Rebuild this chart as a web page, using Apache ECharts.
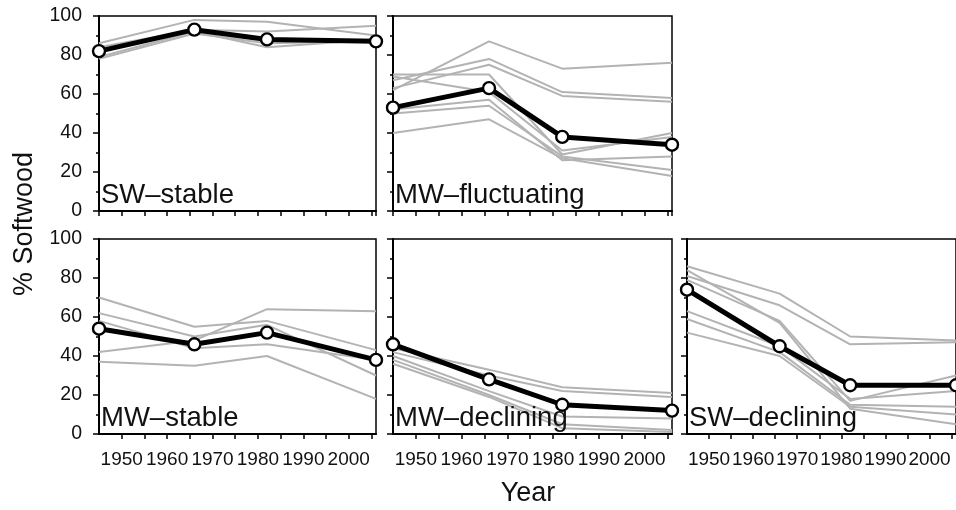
<!DOCTYPE html>
<html>
<head>
<meta charset="utf-8">
<script src="https://cdn.jsdelivr.net/npm/echarts@6/dist/echarts.min.js"></script>
<style>html,body{margin:0;padding:0;background:#fff}#c{width:956px;height:510px}</style>
</head>
<body>
<div id="c"></div>
<script>
// ---- data ----
const years = [1945, 1966, 1982, 2006];
const panelNames = ['SW\u2013stable', 'MW\u2013fluctuating', 'MW\u2013stable', 'MW\u2013declining', 'SW\u2013declining'];

const swStableMean = [82, 93, 88, 87];
const swStableSites = [
  [86, 98, 97, 90],
  [84, 93, 92, 95],
  [79, 92, 84, 88],
  [78, 91, 86, 87]
];

const mwFluctMean = [53, 63, 38, 34];
const mwFluctSites = [
  [62, 87, 73, 76],
  [67, 78, 61, 58],
  [63, 75, 59, 56],
  [70, 70, 29, 40],
  [52, 57, 26, 28],
  [50, 54, 28, 21],
  [40, 47, 27, 18],
  [69, 61, 31, 38]
];

const mwStableMean = [54, 46, 52, 38];
const mwStableSites = [
  [70, 55, 58, 43],
  [62, 50, 56, 30],
  [42, 48, 64, 63],
  [37, 35, 40, 18],
  [58, 44, 46, 38]
];

const mwDeclMean = [46, 28, 15, 12];
const mwDeclSites = [
  [44, 33, 24, 21],
  [42, 30, 22, 19],
  [40, 22, 9, 8],
  [38, 20, 5, 2],
  [36, 19, 3, 1]
];

const swDeclMean = [74, 45, 25, 25];
const swDeclSites = [
  [86, 72, 50, 48],
  [81, 66, 46, 47],
  [79, 58, 17, 30],
  [63, 45, 18, 22],
  [59, 42, 15, 14],
  [52, 40, 14, 10],
  [84, 57, 13, 5]
];

// ---- layout ----
const FONT = 'Liberation Sans, Arial, sans-serif';
const grids = [
  {left: 99, top: 16, width: 277, height: 195},
  {left: 393, top: 16, width: 279, height: 195},
  {left: 99, top: 239, width: 277, height: 195},
  {left: 393, top: 239, width: 279, height: 195},
  {left: 687, top: 239, width: 279, height: 195}
];
const panels = [
  {mean: swStableMean, sites: swStableSites},
  {mean: mwFluctMean, sites: mwFluctSites},
  {mean: mwStableMean, sites: mwStableSites},
  {mean: mwDeclMean, sites: mwDeclSites},
  {mean: swDeclMean, sites: swDeclSites}
];
const showYLabels = [true, false, true, false, false];
const showXLabels = [false, false, true, true, true];

const xAxes = [], yAxes = [], series = [], graphics = [];
grids.forEach((g, i) => {
  g.show = true; g.borderColor = '#000'; g.borderWidth = 1.5; g.backgroundColor = 'transparent';
  xAxes.push({
    type: 'value', gridIndex: i, min: 1945, max: 2006, interval: 5,
    axisLine: {show: true, onZero: false, lineStyle: {color: '#000', width: 2}},
    axisTick: {show: true, length: 5, lineStyle: {color: '#000', width: 1.5}},
    splitLine: {show: false},
    axisLabel: {
      show: showXLabels[i], margin: 16, color: '#111', fontFamily: FONT, fontSize: 19,
      showMaxLabel: false, showMinLabel: false,
      formatter: v => (v % 10 === 0 ? String(v) : '')
    }
  });
  yAxes.push({
    type: 'value', gridIndex: i, min: 0, max: 100, interval: 20,
    axisLine: {show: true, onZero: false, lineStyle: {color: '#000', width: 2}},
    axisTick: {show: true, length: 6, lineStyle: {color: '#000', width: 1.5}},
    minorTick: {show: true, splitNumber: 2, length: 3, lineStyle: {color: '#000', width: 1.5}},
    splitLine: {show: false},
    axisLabel: {show: showYLabels[i], margin: 17, color: '#111', fontFamily: FONT, fontSize: 19.5}
  });
  panels[i].sites.forEach(s => {
    series.push({
      type: 'line', xAxisIndex: i, yAxisIndex: i,
      data: years.map((y, k) => [y, s[k]]),
      symbol: 'none', silent: true, z: 2,
      lineStyle: {color: '#b3b3b3', width: 2}
    });
  });
  series.push({
    type: 'line', xAxisIndex: i, yAxisIndex: i,
    data: years.map((y, k) => [y, panels[i].mean[k]]),
    symbol: 'circle', symbolSize: 12, z: 5, clip: false,
    lineStyle: {color: '#000', width: 5},
    itemStyle: {color: '#fff', borderColor: '#000', borderWidth: 2.4}
  });
  graphics.push({
    type: 'text', x: g.left + 2, y: g.top + g.height - 15.5, z: 100,
    style: {text: panelNames[i], fontFamily: FONT, fontSize: 27.5, fill: '#111', align: 'left', verticalAlign: 'middle'}
  });
});

graphics.push({
  type: 'text', x: 25, y: 224, rotation: Math.PI / 2, z: 100,
  style: {text: '% Softwood', fontFamily: FONT, fontSize: 27, fill: '#111', align: 'center', verticalAlign: 'middle'}
});
graphics.push({
  type: 'text', x: 528, y: 494, z: 100,
  style: {text: 'Year', fontFamily: FONT, fontSize: 27, fill: '#111', align: 'center', verticalAlign: 'middle'}
});

const chart = echarts.init(document.getElementById('c'), null, {renderer: 'canvas'});
chart.setOption({
  animation: false,
  backgroundColor: '#fff',
  grid: grids,
  xAxis: xAxes,
  yAxis: yAxes,
  series: series,
  graphic: graphics
});
</script>
</body>
</html>
